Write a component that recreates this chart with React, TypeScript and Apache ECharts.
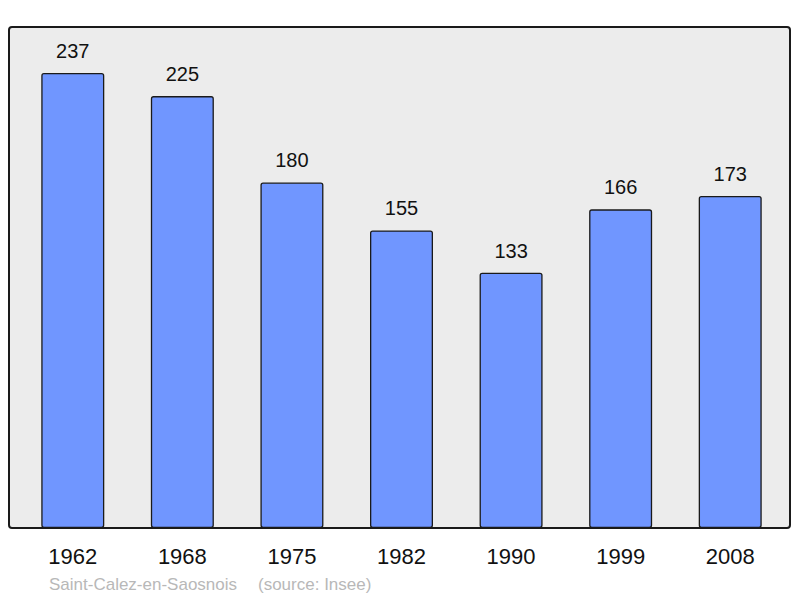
import React, { useEffect, useRef } from "react";
import * as echarts from "echarts";

const years = ["1962", "1968", "1975", "1982", "1990", "1999", "2008"];
const population = [237, 225, 180, 155, 133, 166, 173];
const townName = "Saint-Calez-en-Saosnois";
const sourceText = "(source: Insee)";

const FONT = "'Liberation Sans', Arial, Helvetica, sans-serif";

export default function App() {
  const ref = useRef<HTMLDivElement>(null);
  useEffect(() => {
    if (!ref.current) return;
    const chart = echarts.init(ref.current, null, { renderer: "svg" });
    chart.setOption({
      animation: false,
      backgroundColor: "#ffffff",
      grid: { left: 18, right: 15, top: 27, bottom: 70, containLabel: false },
      xAxis: {
        type: "category",
        data: years,
        axisLine: { show: false },
        axisTick: { show: false },
        axisLabel: { color: "#111", fontSize: 22, fontFamily: FONT, margin: 17 },
      },
      yAxis: {
        type: "value",
        min: 0,
        max: 261,
        show: false,
        splitLine: { show: false },
      },
      graphic: [
        {
          type: "rect",
          z: -10,
          shape: { x: 9, y: 27, width: 781, height: 501, r: 3 },
          style: { fill: "#ececec", stroke: "#1a1a1a", lineWidth: 2 },
        },
        {
          type: "text",
          left: 49,
          top: 576,
          style: {
            text: townName,
            fill: "#b8b8b8",
            font: `17px ${FONT}`,
          },
        },
        {
          type: "text",
          left: 258,
          top: 576,
          style: {
            text: sourceText,
            fill: "#b8b8b8",
            font: `17px ${FONT}`,
          },
        },
      ],
      series: [
        {
          type: "bar",
          data: population,
          barWidth: 63,
          itemStyle: {
            color: "#7096ff",
            borderColor: "#1a1a1a",
            borderWidth: 1.3,
            borderRadius: 2,
          },
          label: {
            show: true,
            position: "top",
            distance: 12,
            color: "#111",
            fontSize: 20,
            fontFamily: FONT,
          },
        },
      ],
    });
    return () => chart.dispose();
  }, []);
  return (
    <div
      ref={ref}
      style={{ position: "fixed", left: 0, top: 0, width: 800, height: 598 }}
    />
  );
}
